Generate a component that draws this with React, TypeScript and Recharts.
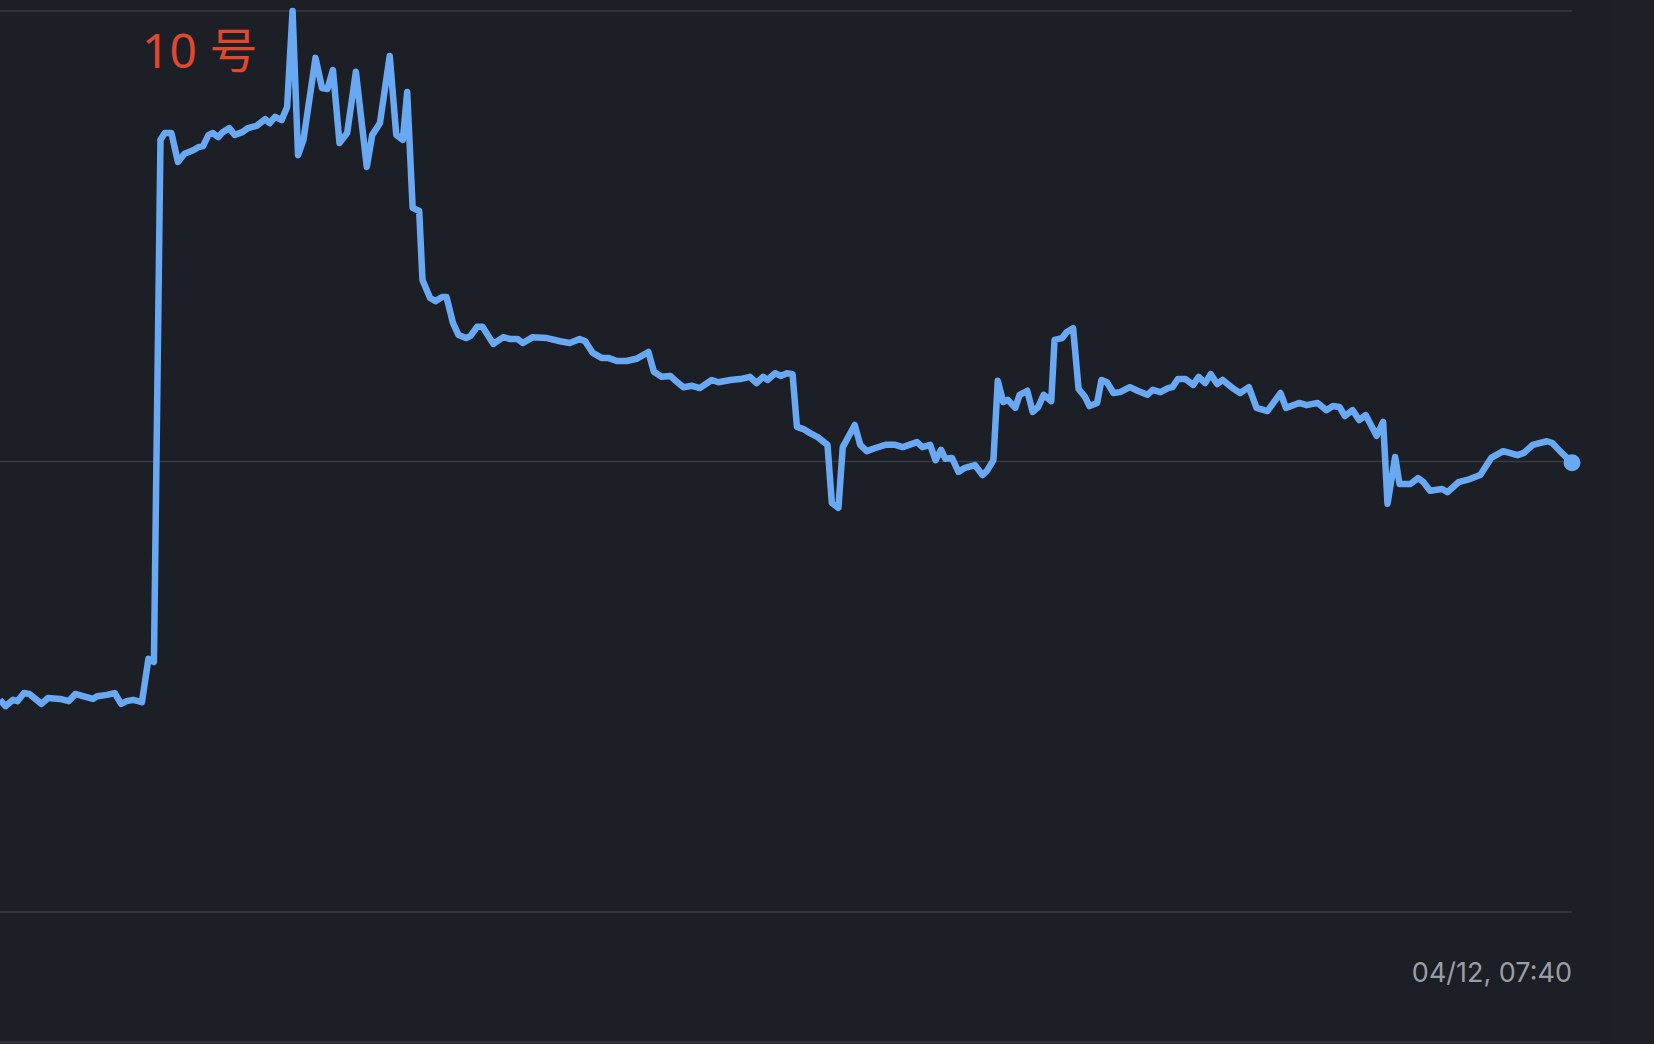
import { LineChart, Line, XAxis, YAxis, CartesianGrid, ReferenceDot } from 'recharts';

// minutes since 04/11 07:40 (chart ends at 04/12 07:40)
const minutes = [
  0, 5, 12, 16, 22, 27, 38, 44, 55, 63, 69, 76, 85, 89, 98, 105, 111, 116, 122, 130,
  136, 141, 147, 151, 157, 163, 169, 177, 182, 186, 191, 195, 200, 204, 210, 215, 222, 227, 235, 243,
  247, 252, 258, 263, 268, 273, 278, 289, 295, 300, 305, 311, 318, 326, 336, 341, 348, 357, 363, 369,
  373, 378, 384, 387, 394, 399, 405, 409, 415, 420, 427, 431, 437, 442, 452, 461, 467, 474, 479, 488,
  501, 513, 522, 531, 536, 543, 551, 557, 565, 574, 583, 589, 594, 599, 606, 614, 618, 626, 634, 641,
  652, 658, 669, 678, 687, 693, 699, 703, 710, 715, 721, 726, 730, 736, 742, 749, 758, 762, 768, 772,
  783, 788, 794, 802, 811, 820, 827, 840, 845, 852, 857, 862, 866, 872, 878, 884, 893, 900, 904, 910,
  914, 919, 923, 930, 934, 941, 946, 951, 956, 963, 966, 973, 977, 983, 988, 994, 998, 1005, 1009, 1014,
  1020, 1026, 1035, 1042, 1051, 1056, 1063, 1070, 1074, 1079, 1086, 1093, 1098, 1104, 1109, 1115, 1120, 1129, 1136, 1144,
  1151, 1161, 1173, 1178, 1190, 1197, 1207, 1215, 1221, 1227, 1232, 1239, 1245, 1251, 1261, 1267, 1271, 1278, 1282, 1292,
  1299, 1304, 1310, 1321, 1326, 1336, 1344, 1356, 1366, 1377, 1390, 1396, 1404, 1417, 1422, 1429, 1440,
];

const values = [
  47.1, 45.7, 47.1, 46.8, 48.6, 48.4, 46.2, 47.5, 47.3, 46.8, 48.4, 47.9, 47.3, 47.9, 48.2, 48.6, 46.2, 46.8, 47.1, 46.6,
  56.2, 55.5, 171.4, 172.9, 172.9, 166.5, 168.3, 169.1, 169.8, 170.0, 172.5, 172.9, 172.0, 173.1, 174.0, 172.5, 173.1, 174.0, 174.5, 176.0,
  175.1, 176.5, 175.8, 178.7, 200.0, 168.0, 171.4, 189.6, 182.9, 182.7, 186.9, 170.7, 172.9, 186.5, 165.4, 172.5, 175.1, 190.0, 172.5, 171.4,
  182.0, 156.3, 155.6, 140.3, 136.3, 135.6, 136.5, 136.5, 130.7, 128.1, 127.4, 127.9, 129.9, 129.9, 126.1, 127.6, 127.2, 127.2, 126.3, 127.6,
  127.4, 126.7, 126.3, 127.2, 126.7, 124.1, 123.0, 123.0, 122.3, 122.3, 122.8, 123.6, 124.3, 119.9, 118.8, 119.0, 118.1, 116.5, 116.8, 116.3,
  118.1, 117.6, 118.1, 118.3, 118.8, 117.4, 118.8, 118.1, 119.6, 119.0, 119.6, 119.4, 107.7, 107.2, 106.3, 105.4, 103.7, 90.8, 89.7, 103.2,
  108.1, 103.7, 102.3, 103.0, 103.7, 103.7, 103.2, 104.3, 103.2, 103.7, 100.3, 102.6, 100.6, 100.8, 97.7, 98.6, 99.2, 97.0, 97.9, 100.3,
  117.9, 113.2, 113.7, 111.9, 114.8, 115.7, 111.0, 112.1, 114.8, 113.4, 127.0, 127.4, 128.7, 129.6, 116.1, 114.3, 112.3, 113.0, 118.1, 117.6,
  115.2, 115.4, 116.5, 115.7, 114.8, 115.9, 115.4, 116.3, 116.5, 118.3, 118.3, 117.0, 118.8, 117.4, 119.4, 117.2, 118.1, 116.3, 115.2, 116.5,
  111.9, 111.2, 115.2, 111.9, 113.0, 112.5, 113.0, 111.4, 112.3, 112.1, 110.1, 111.4, 109.2, 110.3, 105.7, 108.8, 90.6, 101.0, 95.0, 95.0,
  96.3, 95.4, 93.5, 93.9, 93.2, 95.4, 95.9, 97.0, 100.8, 102.3, 101.4, 101.9, 103.7, 104.5, 104.1, 102.3, 99.7,
];

const yTicks = [0, 100, 200];
const endLabel = '04/12, 07:40';
const markLabel = '10 号';

const data = minutes.map((m, i) => ({ m, v: values[i] }));
const last = data[data.length - 1];

const lineColor = '#69a9f4';

export default function App() {
  return (
    <div
      style={{
        position: 'fixed',
        left: 0,
        top: 0,
        width: 1654,
        height: 1044,
        background: '#1d1f26',
        overflow: 'hidden',
      }}
    >
      {/* faint edge of the screenshot on the right */}
      <div style={{ position: 'absolute', left: 1615, top: 0, width: 39, height: 1044, background: '#1e2028' }} />
      <LineChart
        width={1654}
        height={1044}
        data={data}
        margin={{ top: 11, right: 82, bottom: 132, left: 0 }}
        style={{ position: 'absolute', left: 0, top: 0 }}
      >
        <CartesianGrid vertical={false} stroke="#3a3c43" strokeWidth={1.5} />
        <XAxis dataKey="m" type="number" domain={[0, 1440]} hide />
        <YAxis type="number" domain={[0, 200]} ticks={yTicks} hide />
        <Line
          dataKey="v"
          stroke={lineColor}
          strokeWidth={6.5}
          strokeLinejoin="round"
          dot={false}
          isAnimationActive={false}
        />
        <ReferenceDot x={last.m} y={last.v} r={8.5} fill={lineColor} stroke="none" />
      </LineChart>
      <div
        style={{
          position: 'absolute',
          left: 142,
          top: 18,
          fontFamily: '"Noto Sans", "Noto Sans CJK SC", sans-serif',
          fontSize: 48,
          fontWeight: 400,
          lineHeight: '64px',
          color: '#e2472f',
          whiteSpace: 'pre',
        }}
      >
        {markLabel}
      </div>
      <div
        style={{
          position: 'absolute',
          right: 1654 - 1572,
          top: 956,
          fontFamily: 'Inter, "Noto Sans", sans-serif',
          fontSize: 27,
          lineHeight: '34px',
          color: '#9b9da4',
          whiteSpace: 'pre',
        }}
      >
        {endLabel}
      </div>
      <div style={{ position: 'absolute', left: 0, top: 1041, width: 1600, height: 3, background: '#2e3038' }} />
    </div>
  );
}
